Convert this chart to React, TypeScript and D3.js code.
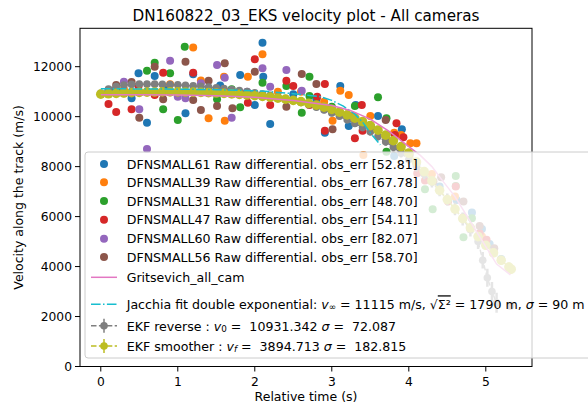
import React from 'react';
import * as d3 from 'd3';

// raw differential velocities per camera: [relative time (s), velocity (m/s)]
const cam61 = [
  [0.12, 11050], [0.4, 10736], [0.49, 11736], [0.6, 9760], [0.7, 11628], [0.85, 11100],
  [1.1, 10136], [1.2, 11700], [1.4, 10950], [1.55, 11250], [1.81, 11668], [2.0, 10468],
  [2.1, 12960], [2.11, 11600], [2.2, 9708], [2.5, 10900], [2.8, 10700], [2.91, 9360],
  [3.11, 11228], [3.22, 9628], [3.31, 10468], [3.6, 10028], [3.71, 9268], [3.81, 8428],
  [3.91, 9496], [4.1, 8100], [4.4, 7200], [4.62, 6668], [4.82, 6160], [4.95, 5500],
  [5.05, 4900], [5.2, 4300],
];
const cam39 = [
  [0.3, 11100], [0.6, 11000], [0.9, 11300], [1.2, 12772], [1.3, 11450], [1.4, 9936],
  [1.6, 11600], [1.61, 9840], [1.91, 11600], [2.1, 12500], [2.3, 11000], [2.6, 11000],
  [2.9, 10600], [3.01, 9840], [3.11, 11040], [3.22, 10868], [3.28, 10028], [3.41, 8468],
  [3.5, 10028], [3.81, 9360], [3.9, 9268], [4.02, 8936], [4.1, 8936], [4.3, 7700],
  [4.6, 6800], [4.95, 5200],
];
const cam31 = [
  [0.2, 11050], [0.6, 11840], [0.7, 12160], [0.81, 10296], [0.9, 11736], [1.0, 9868],
  [1.09, 12800], [1.51, 10696], [1.7, 11100], [1.81, 10376], [2.1, 11360], [2.41, 11230],
  [2.61, 10160], [2.71, 11600], [2.71, 10830], [3.0, 10400], [3.3, 10428], [3.6, 10776],
  [3.71, 9936], [3.71, 8600], [4.21, 7096], [4.31, 6296], [4.61, 7628], [4.61, 7228],
  [4.71, 5176], [4.82, 5936],
];
const cam47 = [
  [0.1, 10508], [0.2, 10188], [0.4, 10296], [0.49, 11228], [0.7, 10868], [0.81, 11760],
  [1.2, 11760], [1.3, 11000], [1.6, 11000], [1.91, 10560], [2.0, 12296], [2.2, 10468],
  [2.41, 11440], [2.5, 11228], [2.71, 10468], [2.81, 10800], [2.91, 11308], [2.91, 9440],
  [3.3, 9136], [3.39, 10468], [3.4, 9440], [3.71, 9068], [3.82, 9268], [3.84, 9736],
  [3.93, 9176], [4.11, 7736], [4.21, 7440], [4.51, 6600], [4.61, 7200], [4.71, 5976],
  [4.92, 5336], [5.01, 5068],
];
const cam60 = [
  [0.1, 11050], [0.3, 11400], [0.5, 10296], [0.6, 8708], [0.9, 12240], [1.0, 10800],
  [1.1, 10736], [1.3, 11336], [1.51, 12068], [1.61, 11560], [1.7, 9960], [1.9, 11000],
  [2.1, 11936], [2.2, 11200], [2.41, 11868], [2.61, 11040],
];
const cam56 = [
  [0.2, 11268], [0.3, 10936], [0.4, 11388], [0.5, 9960], [0.7, 12000], [0.81, 10696],
  [1.1, 12200], [1.2, 10668], [1.3, 10268], [1.4, 11440], [1.51, 10428], [1.61, 12136],
  [1.71, 10336], [2.0, 11800], [2.41, 10400], [2.61, 11708], [2.8, 11308], [3.01, 9496],
  [3.51, 9600], [3.7, 9868], [4.01, 8468], [4.32, 7400], [4.42, 7576], [4.71, 6600],
  [4.8, 5496], [4.92, 5628], [5.11, 4736], [5.32, 2428],
];

const camNames = ['DFNSMALL61', 'DFNSMALL39', 'DFNSMALL31', 'DFNSMALL47', 'DFNSMALL60', 'DFNSMALL56'];
const camErrs = ['52.81', '67.78', '48.70', '54.11', '82.07', '58.70'];
const camPts = [cam61, cam39, cam31, cam47, cam60, cam56];

// model fits
const gritsevichT = [0, 0.5, 1.0, 1.5, 2.0, 2.5, 3.0, 3.24, 3.5, 3.75, 4.0, 4.15, 4.3, 4.43, 4.6, 4.84, 5.0, 5.14, 5.32];
const gritsevichV = [10880, 10880, 10870, 10840, 10780, 10650, 10450, 10250, 9900, 9400, 8800, 8450, 8000, 7470, 6800, 5600, 4800, 4100, 3670];

const jacchiaT = [0, 0.5, 1.0, 1.5, 2.0, 2.2, 2.5, 2.85, 3.0, 3.15, 3.3, 3.4, 3.5, 3.63];
const jacchiaV = [11115, 11110, 11100, 11080, 11040, 11000, 10920, 10800, 10650, 10420, 10100, 9780, 9350, 8870];

// EKF reverse (gray) and smoother (olive), with 1-sigma errors
const ekfRevT = [
  0, 0.1, 0.2, 0.3, 0.4, 0.5, 0.6, 0.7, 0.8, 0.9, 1.0, 1.1, 1.2, 1.3, 1.4, 1.5, 1.6, 1.7, 1.8, 1.9,
  2.0, 2.1, 2.2, 2.3, 2.4, 2.5, 2.6, 2.7, 2.8, 2.9, 3.0, 3.1, 3.2, 3.3, 3.4, 3.5, 3.6, 3.7, 3.8, 3.9,
  4.0, 4.1, 4.2, 4.3, 4.4, 4.5, 4.6, 4.7, 4.8, 4.9, 4.96, 5.02, 5.08, 5.14,
];
const ekfRevV = [
  10931, 11100, 11200, 11260, 11290, 11300, 11300, 11300, 11290, 11280, 11270, 11250, 11230, 11210, 11180, 11150, 11120, 11080, 11040, 11000,
  10950, 10900, 10850, 10790, 10720, 10650, 10570, 10480, 10380, 10270, 10150, 10020, 9880, 9730, 9570, 9400, 9210, 9000, 8780, 8540,
  8280, 8000, 7700, 7380, 7040, 6680, 6300, 5900, 5480, 5000, 4250, 3550, 3000, 2550,
];
const ekfRevErr = [
  72, 90, 100, 100, 100, 100, 100, 100, 100, 100, 100, 100, 100, 100, 100, 100, 100, 100, 105, 105,
  110, 110, 110, 115, 115, 120, 120, 125, 125, 130, 130, 135, 140, 145, 150, 155, 160, 165, 170, 180,
  190, 200, 210, 220, 230, 240, 250, 260, 280, 300, 330, 360, 380, 400,
];

const ekfSmT = [
  0, 0.1, 0.2, 0.3, 0.4, 0.5, 0.6, 0.7, 0.8, 0.9, 1.0, 1.1, 1.2, 1.3, 1.4, 1.5, 1.6, 1.7, 1.8, 1.9,
  2.0, 2.1, 2.2, 2.3, 2.4, 2.5, 2.6, 2.7, 2.8, 2.9, 3.0, 3.1, 3.2, 3.3, 3.4, 3.5, 3.6, 3.7, 3.8, 3.9,
  4.0, 4.1, 4.2, 4.3, 4.4, 4.5, 4.6, 4.7, 4.8, 4.9, 5.0, 5.1, 5.2, 5.3, 5.33,
];
const ekfSmV = [
  10900, 10915, 10930, 10945, 10960, 10970, 10980, 10985, 10990, 10990, 10990, 10985, 10980, 10970, 10960, 10945, 10930, 10910, 10890, 10865,
  10840, 10810, 10780, 10740, 10700, 10650, 10600, 10530, 10460, 10380, 10290, 10180, 10070, 9940, 9800, 9640, 9460, 9260, 9040, 8800,
  8540, 8180, 7800, 7430, 7050, 6680, 6300, 5920, 5550, 5200, 4850, 4550, 4250, 3980, 3895,
];
const ekfSmErr = [
  120, 115, 110, 105, 100, 100, 100, 100, 100, 100, 100, 100, 100, 100, 100, 100, 100, 100, 100, 100,
  100, 100, 100, 105, 105, 110, 110, 110, 115, 115, 115, 120, 120, 125, 125, 130, 130, 135, 135, 140,
  140, 145, 150, 150, 155, 160, 160, 165, 170, 170, 175, 175, 180, 182, 183,
];

const xTicks = [0, 1, 2, 3, 4, 5];
const yTicks = [0, 2000, 4000, 6000, 8000, 10000, 12000];

const W = 588;
const H = 404;
const margin = { top: 28.3, right: 56, bottom: 37.5, left: 80 };
const font = 'DejaVu Sans';

const zip = (ts: number[], vs: number[]) => ts.map((t, i) => [t, vs[i]]);

const App = () => {
  const colors = d3.schemeCategory10;
  const x = d3.scaleLinear().domain([-0.27, 5.6]).range([margin.left, W - margin.right]);
  const y = d3.scaleLinear().domain([0, 13536]).range([H - margin.bottom, margin.top]);

  const line = d3.line<number[]>().x((d) => x(d[0])).y((d) => y(d[1]));

  const gray = '#7f7f7f';
  const olive = '#bcbd22';
  const cyan = '#17becf';
  const pink = '#e377c2';

  const rev = zip(ekfRevT, ekfRevV);
  const sm = zip(ekfSmT, ekfSmV);

  // legend layout
  const lgX = 85;
  const lgTop = 152;
  const lgBottom = 358;
  const rowY = [164, 182.3, 201, 219.7, 238.7, 257, 277.3, 304.3, 325.7, 346];
  const hx0 = 91;
  const hx1 = 117;
  const hxm = 104;
  const tx = 126.7;
  const lgFont = 12.6;
  const subFont = 8.8;

  const errorbar = (pts: number[][], errs: number[], color: string, r: number) => (
    <g>
      <path d={line(pts) || ''} fill="none" stroke={color} strokeWidth={1.5} strokeDasharray="5.5,2.4" />
      {pts.map((d, i) => (
        <line key={'e' + i} x1={x(d[0])} x2={x(d[0])} y1={y(d[1] - errs[i])} y2={y(d[1] + errs[i])}
          stroke={color} strokeWidth={2.5} />
      ))}
      {pts.map((d, i) => (
        <circle key={'m' + i} cx={x(d[0])} cy={y(d[1])} r={r} fill={color} />
      ))}
    </g>
  );

  return (
    <svg width={W} height={H} style={{ position: 'absolute', left: 0, top: 0, background: '#fff' }}
      fontFamily={font}>
      <rect x={0} y={0} width={W} height={H} fill="#fff" />
      <defs>
        <clipPath id="plot">
          <rect x={margin.left} y={margin.top} width={W - margin.left - margin.right}
            height={H - margin.top - margin.bottom} />
        </clipPath>
      </defs>

      <text x={(margin.left + W - margin.right) / 2} y={21} textAnchor="middle" fontSize={15.2} fill="#000">
        DN160822_03_EKS velocity plot - All cameras
      </text>

      <g clipPath="url(#plot)">
        {camPts.map((pts, ci) => (
          <g key={ci} fill={colors[ci]}>
            {pts.map((d, i) => (
              <circle key={i} cx={x(d[0])} cy={y(d[1])} r={4} />
            ))}
          </g>
        ))}
        {errorbar(rev, ekfRevErr, gray, 3.8)}
        {errorbar(sm, ekfSmErr, olive, 4.8)}
        <path d={line(zip(jacchiaT, jacchiaV)) || ''} fill="none" stroke={cyan} strokeWidth={1.5}
          strokeDasharray="9.6,2.4,1.5,2.4" />
        <path d={line(zip(gritsevichT, gritsevichV)) || ''} fill="none" stroke={pink} strokeWidth={1.5} />
      </g>

      {/* axes */}
      <rect x={margin.left} y={margin.top} width={W - margin.left - margin.right}
        height={H - margin.top - margin.bottom} fill="none" stroke="#000" strokeWidth={1} />
      {xTicks.map((t) => (
        <g key={t}>
          <line x1={x(t)} x2={x(t)} y1={H - margin.bottom} y2={H - margin.bottom + 5} stroke="#000" />
          <text x={x(t)} y={H - margin.bottom + 10.5} textAnchor="middle" dominantBaseline="hanging"
            fontSize={12.3}>{t}</text>
        </g>
      ))}
      {yTicks.map((t) => (
        <g key={t}>
          <line x1={margin.left - 5} x2={margin.left} y1={y(t)} y2={y(t)} stroke="#000" />
          <text x={margin.left - 8} y={y(t)} textAnchor="end" dominantBaseline="central" fontSize={12.3}>{t}</text>
        </g>
      ))}
      <text x={(margin.left + W - margin.right) / 2} y={396.5} textAnchor="middle" dominantBaseline="central"
        fontSize={12.5}>Relative time (s)</text>
      <text transform={`translate(18,${(margin.top + H - margin.bottom) / 2}) rotate(-90)`} textAnchor="middle"
        dominantBaseline="central" fontSize={12.5}>Velocity along the track (m/s)</text>

      {/* legend */}
      <rect x={lgX} y={lgTop} width={W} height={lgBottom - lgTop} rx={3} fill="#fff" fillOpacity={0.8}
        stroke="#cccccc" strokeWidth={1} />
      <g fontSize={lgFont}>
        {camNames.map((n, i) => (
          <g key={n}>
            <circle cx={hxm} cy={rowY[i]} r={4} fill={colors[i]} />
            <text x={tx} y={rowY[i]} dominantBaseline="central">{`${n} Raw differential. obs_err [${camErrs[i]}]`}</text>
          </g>
        ))}
        <line x1={hx0} x2={hx1} y1={rowY[6]} y2={rowY[6]} stroke={pink} strokeWidth={1.5} />
        <text x={tx} y={rowY[6]} dominantBaseline="central">Gritsevich_all_cam</text>

        <line x1={hx0} x2={hx1} y1={rowY[7]} y2={rowY[7]} stroke={cyan} strokeWidth={1.5}
          strokeDasharray="9.6,2.4,1.5,2.4" />
        <text x={tx} y={rowY[7]} dominantBaseline="central" xmlSpace="preserve">
          <tspan>Jacchia fit double exponential: </tspan>
          <tspan fontStyle="italic">v</tspan>
          <tspan fontSize={subFont} dy={3}>∞</tspan>
          <tspan dy={-3}> = 11115 m/s, √</tspan>
          <tspan style={{ textDecoration: 'overline' }}>Σ²</tspan>
          <tspan> = 1790 m, </tspan>
          <tspan fontStyle="italic">σ</tspan>
          <tspan> = 90 m</tspan>
        </text>

        {[[rowY[8], gray], [rowY[9], olive]].map(([ry, c]) => (
          <g key={c as string}>
            <line x1={hx0} x2={hx1} y1={ry as number} y2={ry as number} stroke={c as string} strokeWidth={1.5}
              strokeDasharray="5.5,2.4" />
            <line x1={hxm} x2={hxm} y1={(ry as number) - 7} y2={(ry as number) + 7} stroke={c as string}
              strokeWidth={1.5} />
            <circle cx={hxm} cy={ry as number} r={3.8} fill={c as string} />
          </g>
        ))}
        <text x={tx} y={rowY[8]} dominantBaseline="central" xmlSpace="preserve">
          <tspan>EKF reverse : </tspan>
          <tspan fontStyle="italic">v</tspan>
          <tspan fontSize={subFont} dy={3}>0</tspan>
          <tspan dy={-3}>{' =  10931.342 '}</tspan>
          <tspan fontStyle="italic">σ</tspan>
          <tspan>{' =  72.087'}</tspan>
        </text>
        <text x={tx} y={rowY[9]} dominantBaseline="central" xmlSpace="preserve">
          <tspan>EKF smoother : </tspan>
          <tspan fontStyle="italic">v</tspan>
          <tspan fontSize={subFont} fontStyle="italic" dy={3}>f</tspan>
          <tspan dy={-3}>{' =  3894.713 '}</tspan>
          <tspan fontStyle="italic">σ</tspan>
          <tspan>{' =  182.815'}</tspan>
        </text>
      </g>
    </svg>
  );
};

export default App;
